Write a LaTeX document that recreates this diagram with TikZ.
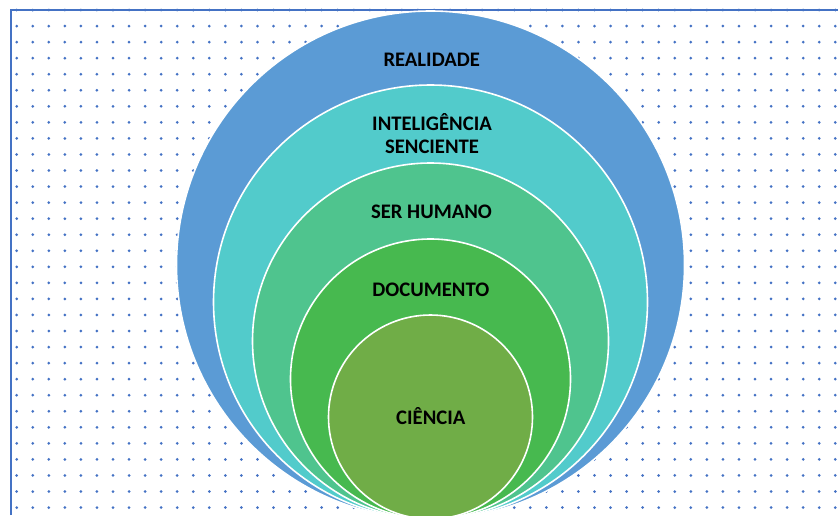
\documentclass[tikz,border=0pt]{standalone}
\usepackage{fontspec}
\setmainfont{Carlito}
\definecolor{frameblue}{HTML}{4472C4}
\definecolor{ringA}{HTML}{5B9BD5}
\definecolor{ringB}{HTML}{52CBCB}
\definecolor{ringC}{HTML}{4FC48E}
\definecolor{ringD}{HTML}{47B94F}
\definecolor{ringE}{HTML}{70AD47}
\begin{document}
\begin{tikzpicture}[x=0.75pt,y=-0.75pt,
    ring/.style={draw=white, line width=1.2pt},
    lbl/.style={font=\fontsize{15.5}{17.25}\selectfont\bfseries, anchor=base, align=center, inner sep=0pt}]
  \useasboundingbox (0,0) rectangle (838,515);
  \begin{scope}
    \clip (0,0) rectangle (838,515);
    % dotted paper
    \foreach \i in {0,...,51}
      \foreach \j in {0,...,31}
        \fill[frameblue] ({16.7+16.05*\i},{10+16.05*\j}) circle (1.5);
    \draw[frameblue, line width=1.6pt] (11,515) -- (11,10) -- (838,10);
    % rings, all touching at the bottom
    \foreach \r/\c in {254/ringA,217/ringB,178/ringC,140/ringD,102/ringE}
      \draw[ring, fill=\c] (430.5,{519-\r}) circle (\r);
  \end{scope}
  \node[lbl] (real) at (431.7,66.7) {REALIDADE};
  \node[lbl] (intel) at (432,153.3) {INTELIGÊNCIA\\SENCIENTE};
  \node[lbl] (ser) at (431.5,218.3) {SER HUMANO};
  \node[lbl] (doc) at (430.8,296) {DOCUMENTO};
  \node[lbl] (cien) at (430.8,424.3) {CIÊNCIA};
\end{tikzpicture}
\end{document}
